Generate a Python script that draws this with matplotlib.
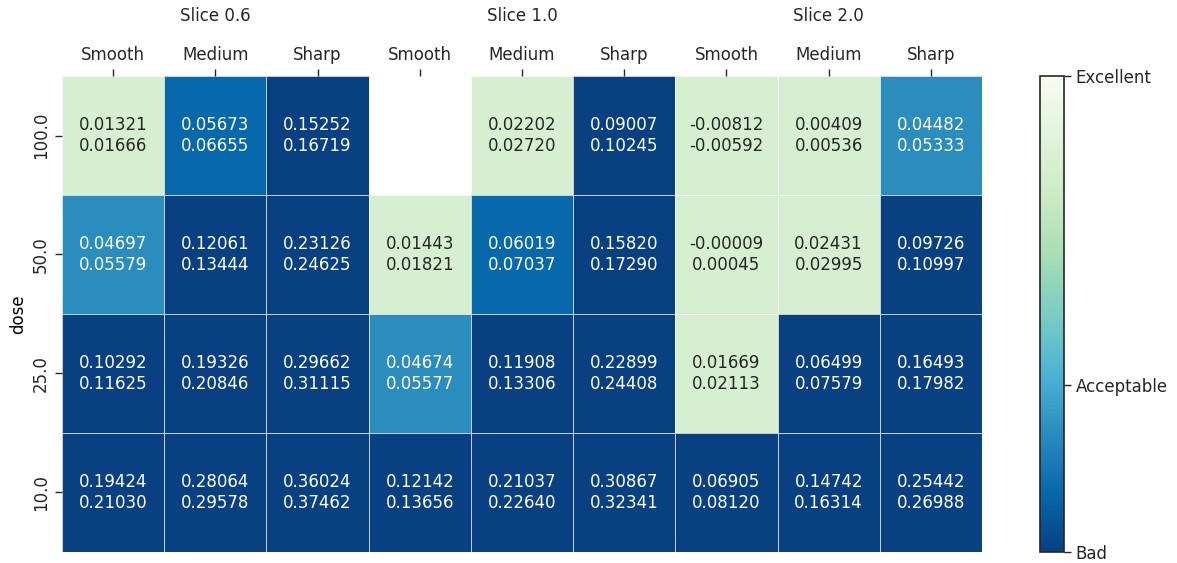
import numpy as np
import matplotlib
matplotlib.use("Agg")
import matplotlib.pyplot as plt
from matplotlib.colors import Normalize

plt.rcParams["font.family"] = ["DejaVu Sans"]

doses = ["100.0", "50.0", "25.0", "10.0"]
slices = ["Slice 0.6", "Slice 1.0", "Slice 2.0"]
kernels = ["Smooth", "Medium", "Sharp"]

# lower / upper estimate for each dose (rows) and slice-kernel pair (columns)
lower = np.array([
    [0.01321, 0.05673, 0.15252, np.nan, 0.02202, 0.09007, -0.00812, 0.00409, 0.04482],
    [0.04697, 0.12061, 0.23126, 0.01443, 0.06019, 0.15820, -0.00009, 0.02431, 0.09726],
    [0.10292, 0.19326, 0.29662, 0.04674, 0.11908, 0.22899, 0.01669, 0.06499, 0.16493],
    [0.19424, 0.28064, 0.36024, 0.12142, 0.21037, 0.30867, 0.06905, 0.14742, 0.25442],
])
upper = np.array([
    [0.01666, 0.06655, 0.16719, np.nan, 0.02720, 0.10245, -0.00592, 0.00536, 0.05333],
    [0.05579, 0.13444, 0.24625, 0.01821, 0.07037, 0.17290, 0.00045, 0.02995, 0.10997],
    [0.11625, 0.20846, 0.31115, 0.05577, 0.13306, 0.24408, 0.02113, 0.07579, 0.17982],
    [0.21030, 0.29578, 0.37462, 0.13656, 0.22640, 0.32341, 0.08120, 0.16314, 0.26988],
])

# quality bands on the upper estimate -> colour score (0 = bad, 1 = excellent)
band_edges = [0.04, 0.06, 0.075]
band_scores = [0.81, 0.25, 0.125, 0.0]
cbar_ticks = [0.0, 0.35, 1.0]
cbar_labels = ["Bad", "Acceptable", "Excellent"]

score = np.full(upper.shape, np.nan)
for i in range(upper.shape[0]):
    for j in range(upper.shape[1]):
        u = upper[i, j]
        if np.isnan(u):
            continue
        k = int(np.searchsorted(band_edges, u, side="right"))
        score[i, j] = band_scores[k]

cmap = plt.get_cmap("GnBu_r")
norm = Normalize(vmin=0.0, vmax=1.0)


def rel_luminance(rgba):
    c = np.array(rgba[:3])
    c = np.where(c <= 0.03928, c / 12.92, ((c + 0.055) / 1.055) ** 2.4)
    return 0.2126 * c[0] + 0.7152 * c[1] + 0.0722 * c[2]


fig = plt.figure(figsize=(11.77, 5.63), dpi=100)
ax = fig.add_axes([62 / 1177, 1 - 552 / 563, 920 / 1177, 476 / 563])
cax = fig.add_axes([1040 / 1177, 1 - 552 / 563, 24 / 1177, 476 / 563])

masked = np.ma.masked_invalid(score)
mesh = ax.pcolormesh(masked, cmap=cmap, norm=norm,
                     edgecolors=(1, 1, 1, 0.75), linewidth=0.5)
ax.set_xlim(0, score.shape[1])
ax.set_ylim(score.shape[0], 0)
for s in ax.spines.values():
    s.set_visible(False)

n_rows, n_cols = score.shape
for i in range(n_rows):
    for j in range(n_cols):
        if np.isnan(score[i, j]):
            continue
        rgba = cmap(norm(score[i, j]))
        color = "#262626" if rel_luminance(rgba) > 0.408 else "white"
        ax.text(j + 0.5, i + 0.5, f"{lower[i, j]:.5f}\n{upper[i, j]:.5f}",
                ha="center", va="center", fontsize=12, color=color)

ax.xaxis.tick_top()
ax.set_xticks(np.arange(n_cols) + 0.5)
ax.set_xticklabels(kernels * len(slices), fontsize=12)
ax.set_yticks(np.arange(n_rows) + 0.5)
ax.set_yticklabels(doses, rotation=90, va="center", fontsize=12)
ax.set_ylabel("dose", fontsize=12)
ax.tick_params(length=5, width=1, color="#262626", labelcolor="#262626")

for g, name in enumerate(slices):
    ax.text((g * 3 + 1.5) / n_cols, 1 + 60 / 476, name, transform=ax.transAxes,
            ha="center", va="center", fontsize=12, color="#262626")

cb = fig.colorbar(mesh, cax=cax)
cb.set_ticks(cbar_ticks)
cb.set_ticklabels(cbar_labels, fontsize=12)
cb.ax.tick_params(length=5, width=1, color="#262626", labelcolor="#262626")
cb.outline.set_edgecolor("#262626")
cb.outline.set_linewidth(1.2)

fig.savefig("out.png", dpi=100)
